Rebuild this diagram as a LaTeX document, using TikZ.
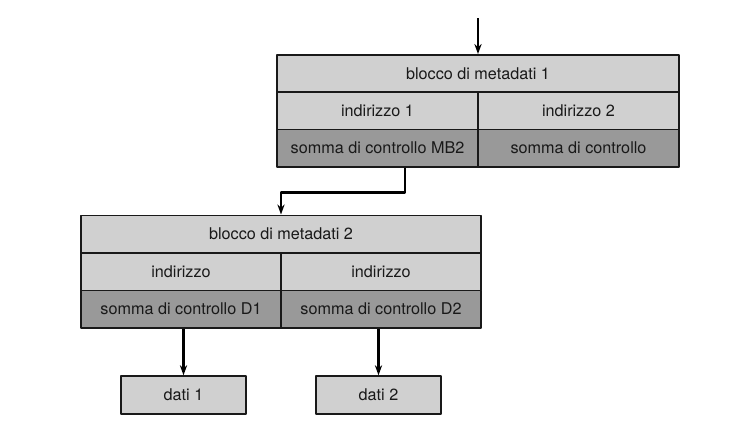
\documentclass[tikz,border=0pt]{standalone}
\usepackage{fontspec}
\setmainfont{TeX Gyre Heros}
\usepackage{tikz}
\usetikzlibrary{arrows.meta,calc,positioning}
\definecolor{cellgray}{RGB}{208,208,208}
\definecolor{sumgray}{RGB}{153,153,153}
\tikzset{cell/.style={draw=black!90,line width=0.75pt,fill=cellgray,inner sep=0pt,minimum height=18.75pt,text=black!90},
  sumcell/.style={cell,fill=sumgray},
  link/.style={->,line width=1.1pt}}

\begin{document}
\begin{tikzpicture}[x=0.5pt,y=-0.5pt,>={Stealth[length=5pt,width=3.6pt]},line join=round,font=\fontsize{8.1}{10}\selectfont]
\useasboundingbox (0,0) rectangle (738,428);
% --- metadata block 1
\node[cell,minimum width=201pt] (t1) at (478,73.5) {blocco di metadati 1};
\node[cell,minimum width=100.5pt] (a11) at (377.5,110.5) {indirizzo 1};
\node[cell,minimum width=100.5pt] (a12) at (578.5,110.5) {indirizzo 2};
\node[sumcell,minimum width=100.5pt] (s11) at (377.5,148) {somma di controllo MB2};
\node[sumcell,minimum width=100.5pt] (s12) at (578.5,148) {somma di controllo};
\coordinate (in) at (478,18);
\draw[link] (in) -- (t1.north);
% --- metadata block 2
\node[cell,minimum width=200pt] (t2) at (281,234) {blocco di metadati 2};
\node[cell,minimum width=100pt] (a21) at (181,271.5) {indirizzo};
\node[cell,minimum width=100pt] (a22) at (381,271.5) {indirizzo};
\node[sumcell,minimum width=100pt] (s21) at (181,309) {somma di controllo D1};
\node[sumcell,minimum width=100pt] (s22) at (381,309) {somma di controllo D2};
\draw[link] ([xshift=13.75pt]s11.south) -- ++(0,25) -| (t2.north);
% --- data
\node[cell,minimum width=62.5pt,minimum height=19pt] (d1) at (183.5,395) {dati 1};
\node[cell,minimum width=62.5pt,minimum height=19pt] (d2) at (378.5,395) {dati 2};
\draw[link] (s21.south -| d1.north) -- (d1.north);
\draw[link] (s22.south -| d2.north) -- (d2.north);
\end{tikzpicture}
\end{document}
